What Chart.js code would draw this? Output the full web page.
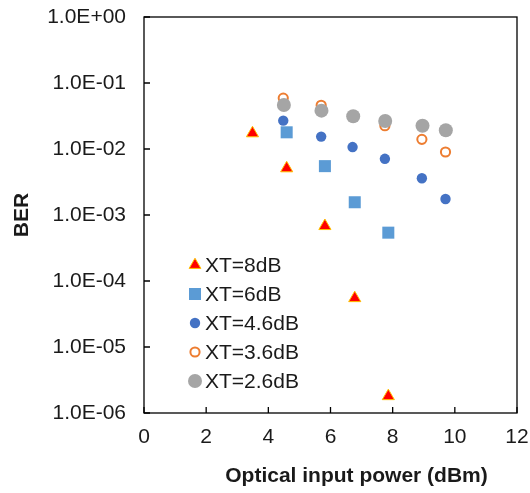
<!DOCTYPE html>
<html>
<head>
<meta charset="utf-8">
<script src="https://cdn.jsdelivr.net/npm/chart.js@4.4.0/dist/chart.umd.min.js"></script>
<style>
    html, body { margin: 0; padding: 0; background: #ffffff; }
    #wrap { width: 530px; height: 493px; }
</style>
</head>
<body>
<div id="wrap"><canvas id="berChart"></canvas></div>
<script>
// series
const seriesLabels = ['XT=8dB', 'XT=6dB', 'XT=4.6dB', 'XT=3.6dB', 'XT=2.6dB'];

const xt8Power = [3.49, 4.59, 5.82, 6.78, 7.86];
const xt8Ber = [1.73e-2, 5.1e-3, 6.8e-4, 5.5e-5, 1.8e-6];

const xt6Power = [4.59, 5.82, 6.78, 7.86];
const xt6Ber = [1.79e-2, 5.5e-3, 1.56e-3, 5.4e-4];

const xt46Power = [4.48, 5.70, 6.71, 7.75, 8.94, 9.70];
const xt46Ber = [2.69e-2, 1.54e-2, 1.07e-2, 7.1e-3, 3.6e-3, 1.75e-3];

const xt36Power = [4.48, 5.70, 7.75, 8.94, 9.70];
const xt36Ber = [5.9e-2, 4.6e-2, 2.25e-2, 1.40e-2, 9.0e-3];

const xt26Power = [4.50, 5.71, 6.73, 7.76, 8.96, 9.71];
const xt26Ber = [4.64e-2, 3.81e-2, 3.13e-2, 2.65e-2, 2.25e-2, 1.92e-2];

const xTicks = [0, 2, 4, 6, 8, 10, 12];
const yTicks = [1e-6, 1e-5, 1e-4, 1e-3, 1e-2, 1e-1, 1];
const yTickLabels = ['1.0E-06', '1.0E-05', '1.0E-04', '1.0E-03', '1.0E-02', '1.0E-01', '1.0E+00'];

const FONT = "'Liberation Sans', Arial, sans-serif";
const TEXT = '#1a1a1a';
const toPoints = (xs, ys) => xs.map((x, i) => ({ x: x, y: ys[i] }));

// frame, inward tick marks, x title and the in-plot legend
const excelFrame = {
    id: 'excelFrame',
    afterDraw(chart) {
        const ctx = chart.ctx;
        const area = chart.chartArea;
        const xs = chart.scales.x;
        const ys = chart.scales.y;
        ctx.save();
        ctx.strokeStyle = '#000000';
        ctx.lineWidth = 1.3;
        ctx.strokeRect(area.left, area.top, area.right - area.left, area.bottom - area.top);
        ctx.beginPath();
        xs.ticks.forEach((t, i) => {
            const px = xs.getPixelForTick(i);
            ctx.moveTo(px, area.bottom);
            ctx.lineTo(px, area.bottom - 6);
        });
        ys.ticks.forEach((t, i) => {
            const py = ys.getPixelForTick(i);
            ctx.moveTo(area.left, py);
            ctx.lineTo(area.left + 6, py);
        });
        ctx.stroke();

        // x axis title
        ctx.fillStyle = TEXT;
        ctx.font = 'bold 21px ' + FONT;
        ctx.textAlign = 'center';
        ctx.textBaseline = 'middle';
        ctx.fillText('Optical input power (dBm)', (area.left + area.right) / 2 + 26, 476);

        // legend
        ctx.font = '21px ' + FONT;
        ctx.textAlign = 'left';
        chart.data.datasets.forEach((ds, i) => {
            const cx = area.left + 51;
            const cy = area.top + 248 + i * 29;
            ctx.fillStyle = ds.backgroundColor;
            ctx.strokeStyle = ds.borderColor;
            ctx.lineWidth = ds.borderWidth;
            Chart.helpers.drawPoint(ctx, {
                pointStyle: ds.pointStyle,
                radius: ds.legendRadius,
                rotation: 0,
                borderWidth: ds.borderWidth
            }, cx, cy);
            ctx.fillStyle = TEXT;
            ctx.fillText(ds.label, cx + 10, cy + 1);
        });
        ctx.restore();
    }
};

const ctx = document.getElementById('berChart');
new Chart(ctx, {
    type: 'scatter',
    data: {
        datasets: [
            {
                label: seriesLabels[0],
                data: toPoints(xt8Power, xt8Ber),
                pointStyle: 'triangle',
                pointRadius: 7,
                legendRadius: 6.8,
                backgroundColor: '#FF0000',
                borderColor: '#FFC000',
                borderWidth: 1,
                order: 4
            },
            {
                label: seriesLabels[1],
                data: toPoints(xt6Power, xt6Ber),
                pointStyle: 'rect',
                pointRadius: 8.5,
                legendRadius: 8.5,
                backgroundColor: '#5B9BD5',
                borderColor: '#5B9BD5',
                borderWidth: 0,
                order: 3
            },
            {
                label: seriesLabels[2],
                data: toPoints(xt46Power, xt46Ber),
                pointStyle: 'circle',
                pointRadius: 5.2,
                legendRadius: 5.2,
                backgroundColor: '#4472C4',
                borderColor: '#4472C4',
                borderWidth: 0,
                order: 2
            },
            {
                label: seriesLabels[3],
                data: toPoints(xt36Power, xt36Ber),
                pointStyle: 'circle',
                pointRadius: 4.6,
                legendRadius: 4.6,
                backgroundColor: '#FFFFFF',
                borderColor: '#ED7D31',
                borderWidth: 2,
                order: 1
            },
            {
                label: seriesLabels[4],
                data: toPoints(xt26Power, xt26Ber),
                pointStyle: 'circle',
                pointRadius: 7,
                legendRadius: 7,
                backgroundColor: '#A5A5A5',
                borderColor: '#A5A5A5',
                borderWidth: 0,
                order: 0
            }
        ]
    },
    options: {
        responsive: true,
        maintainAspectRatio: false,
        animation: false,
        layout: {
            padding: { top: 17, right: 13, left: 0, bottom: 0 }
        },
        plugins: {
            legend: { display: false },
            tooltip: { enabled: false }
        },
        scales: {
            x: {
                type: 'linear',
                min: 0,
                max: 12,
                afterBuildTicks: (scale) => {
                    scale.ticks = xTicks.map(v => ({ value: v }));
                },
                afterFit: (scale) => {
                    scale.height = 80;
                    scale.paddingLeft = 0;
                    scale.paddingRight = 0;
                },
                ticks: {
                    color: TEXT,
                    padding: 12,
                    font: { family: FONT, size: 21 },
                    callback: (value) => String(value)
                },
                grid: { display: false, drawTicks: false },
                border: { display: false }
            },
            y: {
                type: 'logarithmic',
                min: 1e-6,
                max: 1,
                afterBuildTicks: (scale) => {
                    scale.ticks = yTicks.map(v => ({ value: v }));
                },
                afterFit: (scale) => {
                    scale.width = 144;
                    scale.paddingTop = 0;
                    scale.paddingBottom = 0;
                },
                ticks: {
                    color: TEXT,
                    padding: 18,
                    font: { family: FONT, size: 21 },
                    callback: (value, index) => yTickLabels[index]
                },
                grid: { display: false, drawTicks: false },
                border: { display: false },
                title: {
                    display: true,
                    text: 'BER',
                    color: TEXT,
                    padding: { top: 10, bottom: 0 },
                    font: { family: FONT, size: 21, weight: 'bold' }
                }
            }
        }
    },
    plugins: [excelFrame]
});
</script>
</body>
</html>
